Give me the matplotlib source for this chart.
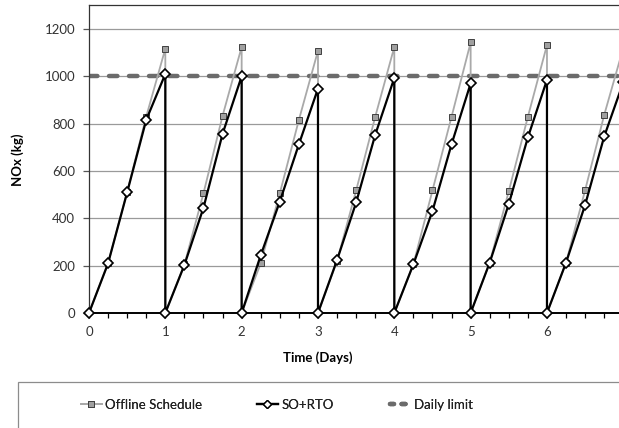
import matplotlib
matplotlib.use("Agg")
import matplotlib.pyplot as plt
from matplotlib.lines import Line2D
from matplotlib.patches import Rectangle
from matplotlib.ticker import MultipleLocator

plt.rcParams["font.family"] = ["Lato", "DejaVu Sans"]

# quarter-day samples, the drop back to 0 repeats the integer day
time = [0, 0.25, 0.5, 0.75, 1,
        1, 1.25, 1.5, 1.75, 2,
        2, 2.25, 2.5, 2.75, 3,
        3, 3.25, 3.5, 3.75, 4,
        4, 4.25, 4.5, 4.75, 5,
        5, 5.25, 5.5, 5.75, 6,
        6, 6.25, 6.5, 6.75, 7]

offline = [0, 210, 512, 830, 1117,
           0, 205, 506, 833, 1124,
           0, 210, 506, 816, 1108,
           0, 220, 518, 829, 1124,
           0, 206, 518, 829, 1143,
           0, 213, 515, 829, 1132,
           0, 213, 519, 837, 1120]

so_rto = [0, 210, 510, 816, 1010,
          0, 203, 445, 757, 1000,
          0, 244, 471, 713, 948,
          0, 224, 467, 753, 993,
          0, 206, 431, 713, 970,
          0, 213, 461, 742, 985,
          0, 213, 457, 746, 975]

day_labels = [0, 1, 2, 3, 4, 5, 6]
daily_limit = 1000

fig = plt.figure(figsize=(6.19, 4.28), dpi=100)
ax = fig.add_axes([89 / 619, 1 - 313 / 428, 534.3 / 619, 307.7 / 428])

ax.axhline(daily_limit, color="#6b6b6b", lw=3.2, dashes=(1.9, 2.6),
           dash_capstyle="round", zorder=2)

sq_idx = [i for i, v in enumerate(offline) if v > 0]
ax.plot(time, offline, color="#a9a9a9", lw=1.3, marker="s", ms=4,
        mfc="#a0a0a0", mec="#404040", mew=0.7, markevery=sq_idx, zorder=3,
        clip_on=False)
ax.plot(time, so_rto, color="black", lw=1.6, marker="D", ms=5.5,
        mfc="white", mec="black", mew=1.2, zorder=4, clip_on=False)

ax.set_xlim(0, 7)
ax.set_ylim(0, 1300)
ax.set_yticks(range(0, 1201, 200))
ax.set_xticks(day_labels)
ax.xaxis.set_minor_locator(MultipleLocator(0.25))
ax.grid(axis="y", color="#9a9a9a", lw=0.9, zorder=1)
ax.set_axisbelow(True)

ax.tick_params(axis="x", which="both", direction="out", length=3.5, width=0.9,
               color="black", pad=6, labelsize=9.5, labelcolor="#333333")
ax.tick_params(axis="y", direction="out", length=4, width=0.9, color="#555555",
               pad=6, labelsize=9.5, labelcolor="#333333")
for s in ["left", "top", "right"]:
    ax.spines[s].set_color("#333333")
    ax.spines[s].set_linewidth(0.9)
ax.spines["bottom"].set_linewidth(1.4)
ax.spines["bottom"].set_color("black")

fig.text(18 / 619, 1 - 160 / 428, "NOx (kg)", rotation=90, fontsize=9.5,
         fontweight="bold", ha="center", va="center")
fig.text(318 / 619, 1 - 358 / 428, "Time (Days)", fontsize=9.5,
         fontweight="bold", ha="center", va="center")

# legend box runs off the right and bottom edges
fig.patches.append(Rectangle((18 / 619, -0.05), 1.0, 1 - 382 / 428 + 0.05,
                             transform=fig.transFigure, fill=False,
                             ec="#8c8c8c", lw=0.9))

handles = [
    Line2D([], [], color="#a9a9a9", lw=1.3, marker="s", ms=4,
           mfc="#a0a0a0", mec="#404040", mew=0.7),
    Line2D([], [], color="black", lw=1.6, marker="D", ms=4,
           mfc="white", mec="black", mew=1.0),
    Line2D([], [], color="#6b6b6b", lw=3.2, dashes=(0.9, 1.7),
           dash_capstyle="round"),
]
labels = ["Offline Schedule", "SO+RTO", "Daily limit"]
leg_x = [69, 245, 378]
for h, lab, x in zip(handles, labels, leg_x):
    leg = fig.legend([h], [lab], loc="center left", frameon=False,
                     bbox_to_anchor=(x / 619, 1 - 405 / 428), fontsize=9.5,
                     handlelength=1.6, handletextpad=0.25,
                     labelcolor="#222222")
    fig.add_artist(leg)

fig.savefig("out.png", dpi=100)
